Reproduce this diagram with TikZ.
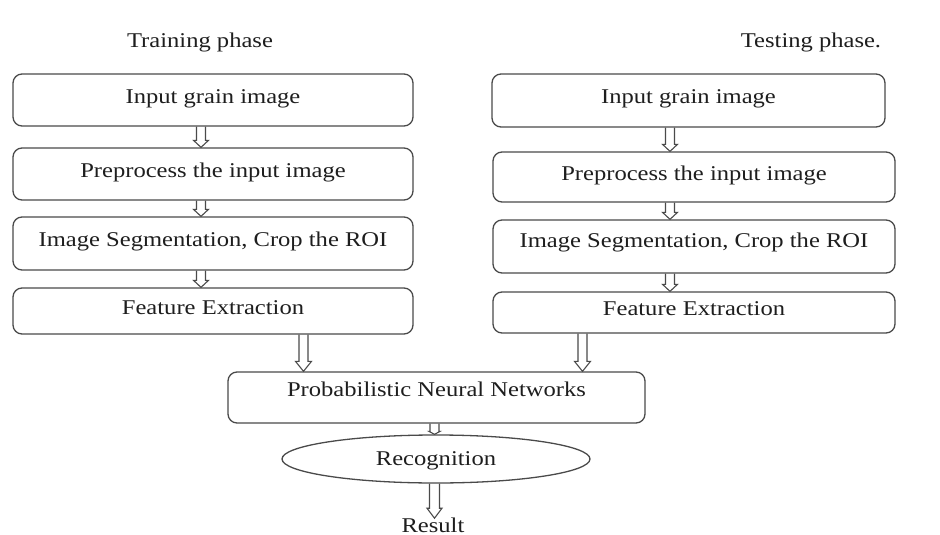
\documentclass[tikz,border=0pt]{standalone}
\usepackage{fontspec}
\setmainfont{Liberation Serif}[FakeStretch=1.17]
\usetikzlibrary{calc,shapes.geometric}
\definecolor{ln}{HTML}{4A4A4A}
\definecolor{tx}{HTML}{1E1E1E}
\tikzset{
  txt/.style={font=\fontsize{21}{25}\selectfont, text=tx},
  stepbox/.style={txt, draw=ln, line width=1.3pt, rounded corners=9pt, inner sep=0pt,
    minimum width=#1, text height=14pt, text depth=8pt},
  harrow/.style args={#1/#2/#3}{draw=ln, line width=1.1pt, line join=miter,
    to path={let \p1=(\tikztostart), \p2=(\tikztotarget) in
      (\x1-#1,\y1) -- (\x1-#1,\y2+#3) -- (\x1-#2,\y2+#3) -- (\x1,\y2)
      -- (\x1+#2,\y2+#3) -- (\x1+#1,\y2+#3) -- (\x1+#1,\y1)}},
  small/.style={harrow={4.5pt/7.5pt/7pt}},
  big/.style={harrow={4.5pt/8pt/10pt}}
}
\begin{document}
\begin{tikzpicture}[x=1pt,y=-1pt]
\useasboundingbox[fill=white] (0,0) rectangle (940,535);

\node[txt] (trn) at (200,42) {Training phase};
\node[txt] (tst) at (811,42) {Testing phase.};

% training column
\node[stepbox=400pt, minimum height=52pt] (l1) at (213,100) {Input grain image};
\node[stepbox=400pt, minimum height=52pt] (l2) at (213,174) {Preprocess the input image};
\node[stepbox=400pt, minimum height=53pt] (l3) at (213,243.5) {Image Segmentation, Crop the ROI};
\node[stepbox=400pt, minimum height=46pt] (l4) at (213,311) {Feature Extraction};

% testing column
\node[stepbox=393pt, minimum height=53pt] (r1) at (688.5,100.5) {Input grain image};
\node[stepbox=402pt, minimum height=50pt] (r2) at (694,177) {Preprocess the input image};
\node[stepbox=402pt, minimum height=53pt, text depth=12pt] (r3) at (694,246.5) {Image Segmentation, Crop the ROI};
\node[stepbox=402pt, minimum height=41pt] (r4) at (694,312.5) {Feature Extraction};

% common part
\node[stepbox=417pt, minimum height=51pt, text depth=16pt] (pnn) at (436.5,397.5) {Probabilistic Neural Networks};
\node[txt, draw=ln, line width=1.3pt, ellipse, inner sep=0pt, minimum width=308pt,
      minimum height=48pt, text height=14pt, text depth=2pt] (rec) at (436,459) {Recognition};
\node[txt, anchor=base, inner sep=1pt] (res) at (433,532) {Result};

% x positions of the arrows
\coordinate (cl) at (201,0);
\coordinate (cr) at (670,0);
\coordinate (fl) at (303.5,0);
\coordinate (fr) at (582.5,0);
\coordinate (cm) at (434.5,0);

\draw[small] (l1.south -| cl) to (l2.north -| cl);
\draw[small] (l2.south -| cl) to (l3.north -| cl);
\draw[small] (l3.south -| cl) to (l4.north -| cl);
\draw[small] (r1.south -| cr) to (r2.north -| cr);
\draw[small] (r2.south -| cr) to (r3.north -| cr);
\draw[small] (r3.south -| cr) to (r4.north -| cr);
\draw[big] (l4.south -| fl) to (pnn.north -| fl);
\draw[big] (r4.south -| fr) to (pnn.north -| fr);
\draw[harrow={4.5pt/5.5pt/3pt}] (pnn.south -| cm) to (rec.north -| cm);
\draw[harrow={5pt/7.5pt/10pt}] (rec.south -| cm) to ([yshift=-2pt]res.north -| cm);
\end{tikzpicture}
\end{document}
